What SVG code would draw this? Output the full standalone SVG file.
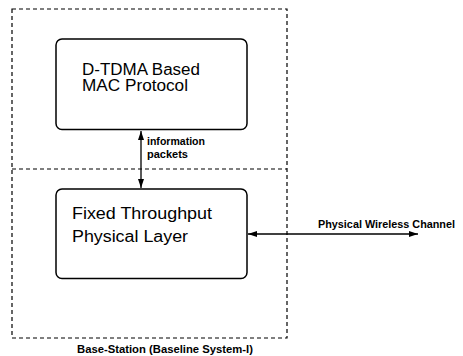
<svg xmlns="http://www.w3.org/2000/svg" width="463" height="356" viewBox="0 0 463 356">
<style>
.dash{fill:none;stroke:#000;stroke-width:1.2;stroke-dasharray:4,3}
.box{fill:#fff;stroke:#000;stroke-width:1.5}
.big{font-family:"Liberation Sans",Arial,sans-serif;font-size:16px;fill:#000}
.small{font-family:"Liberation Sans",Arial,sans-serif;font-size:10px;font-weight:bold;fill:#000}
.conn{stroke:#000;stroke-width:1.3;fill:none}
</style>
<defs>
<marker id="ah" markerWidth="10" markerHeight="8" refX="9" refY="4" orient="auto-start-reverse" markerUnits="userSpaceOnUse">
<path d="M0,1 L9,4 L0,7 Z" fill="#000"/>
</marker>
</defs>
<g id="base-station">
<rect class="dash" x="12" y="9" width="275" height="329"/>
<line class="dash" x1="12" y1="169" x2="287" y2="169"/>
<text class="small" x="77" y="353" font-size="11" textLength="176" lengthAdjust="spacingAndGlyphs">Base-Station (Baseline System-I)</text>
</g>
<g id="mac">
<rect class="box" x="56" y="39" width="191" height="90.5" rx="6"/>
<text class="big" x="82" y="74.5" font-size="14" textLength="118" lengthAdjust="spacingAndGlyphs">D-TDMA Based</text>
<text class="big" x="82" y="90.5" font-size="14" textLength="106" lengthAdjust="spacingAndGlyphs">MAC Protocol</text>
</g>
<g id="phy">
<rect class="box" x="56" y="189" width="191" height="89.5" rx="6"/>
<text class="big" x="72" y="219" font-size="17" textLength="140" lengthAdjust="spacingAndGlyphs">Fixed Throughput</text>
<text class="big" x="72" y="242" font-size="17" textLength="116" lengthAdjust="spacingAndGlyphs">Physical Layer</text>
</g>
<g id="connectors">
<line class="conn" x1="141" y1="131" x2="141" y2="188" marker-start="url(#ah)" marker-end="url(#ah)"/>
<text class="small" x="147" y="145" textLength="58" lengthAdjust="spacingAndGlyphs">information</text>
<text class="small" x="147" y="158" textLength="41" lengthAdjust="spacingAndGlyphs">packets</text>
<line class="conn" x1="248" y1="234" x2="418" y2="234" marker-start="url(#ah)" marker-end="url(#ah)"/>
<text class="small" x="318" y="228" textLength="137" lengthAdjust="spacingAndGlyphs">Physical Wireless Channel</text>
</g>
</svg>
